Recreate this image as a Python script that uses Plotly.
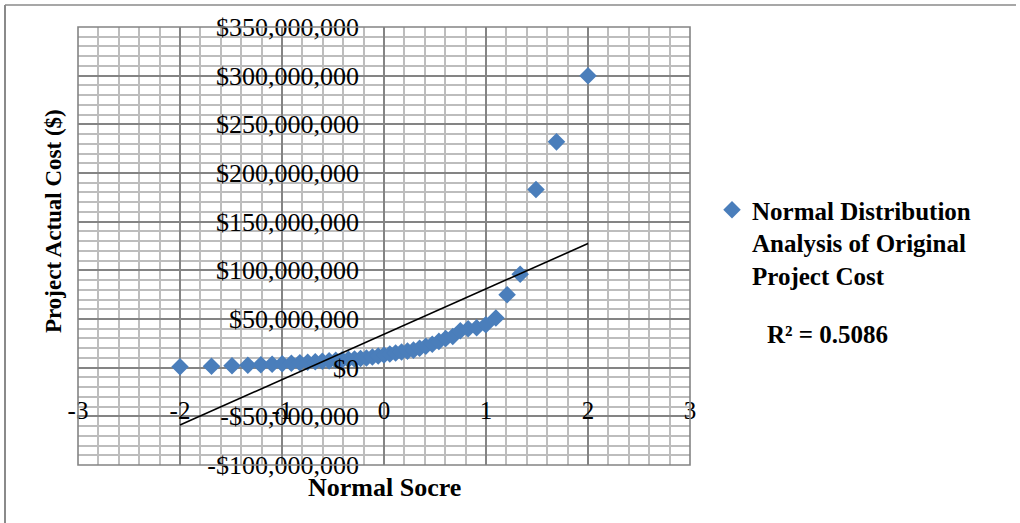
import numpy as np
import plotly.graph_objects as go

# ---- data ----
normal_score = [-2.000, -1.691, -1.490, -1.335, -1.207, -1.097, -0.998, -0.908, -0.825,
                -0.748, -0.674, -0.605, -0.538, -0.473, -0.410, -0.349, -0.289, -0.230,
                -0.172, -0.114, -0.057, 0.000, 0.057, 0.114, 0.172, 0.230, 0.289, 0.349,
                0.410, 0.473, 0.538, 0.605, 0.674, 0.748, 0.825, 0.908, 0.998, 1.097,
                1.207, 1.335, 1.490, 1.691, 2.000]
actual_cost_musd = [1.0, 1.5, 2.0, 2.5, 3.0, 3.5, 4.0, 4.5, 5.0,
                    5.5, 6.0, 6.5, 7.0, 7.5, 8.0, 8.5, 9.0, 9.5,
                    10.0, 11.0, 12.0, 13.0, 14.0, 15.0, 16.0, 17.0, 18.0, 20.0,
                    22.0, 24.0, 27.0, 30.0, 32.0, 38.0, 40.0, 41.0, 44.0, 51.0,
                    75.0, 96.0, 183.0, 232.0, 300.0]

x_tick_vals = [-3, -2, -1, 0, 1, 2, 3]
x_tick_text = ["-3", "-2", "-1", "0", "1", "2", "3"]
y_tick_vals = [-100e6, -50e6, 0, 50e6, 100e6, 150e6, 200e6, 250e6, 300e6, 350e6]
y_tick_text = ["-$100,000,000", "-$50,000,000", "$0", "$50,000,000", "$100,000,000",
               "$150,000,000", "$200,000,000", "$250,000,000", "$300,000,000", "$350,000,000"]

series_name = "Normal Distribution<br>Analysis of Original<br>Project Cost"
x_title = "Normal Socre"
y_title = "Project Actual Cost ($)"
r2_label = "R² = 0.5086"

cost = [v * 1e6 for v in actual_cost_musd]

# linear trendline fitted to the data
slope, intercept = np.polyfit(normal_score, cost, 1)
trend_x = [min(normal_score), max(normal_score)]
trend_y = [slope * v + intercept for v in trend_x]

FONT = "Liberation Serif"
MAJOR = "#848484"
MINOR = "#bdbdbd"
BLUE = "#4a7ebb"

fig = go.Figure()
fig.add_trace(go.Scatter(
    x=normal_score, y=cost, mode="markers", name="<b>" + series_name + "</b>",
    marker=dict(symbol="diamond", size=13.5, color=BLUE, line=dict(width=0)),
))
fig.add_trace(go.Scatter(
    x=trend_x, y=trend_y, mode="lines", showlegend=False,
    line=dict(color="black", width=1.6),
))

# pixel helpers for plot area 78..690 x 27..465
PL, PR, PT, PB = 78, 690, 27, 465
def px_x(p):
    return (p - PL) / (PR - PL)
def px_y(p):
    return (PB - p) / (PB - PT)

fig.update_layout(
    width=1020, height=523, autosize=False,
    margin=dict(l=PL, r=1020 - PR, t=PT, b=523 - PB),
    plot_bgcolor="white", paper_bgcolor="white",
    font=dict(family=FONT, size=25, color="black"),
    xaxis=dict(
        range=[-3, 3], tickmode="array", tickvals=x_tick_vals, ticktext=x_tick_text,
        showgrid=True, gridcolor=MAJOR, gridwidth=1.6, zeroline=False, showline=False,
        ticks="", anchor="free", position=px_y(393), automargin=False,
        tickfont=dict(family=FONT, size=25, color="black"),
        minor=dict(tickmode="linear", tick0=-3, dtick=0.2, showgrid=True,
                   gridcolor=MINOR, gridwidth=1.5),
    ),
    yaxis=dict(
        range=[-100e6, 350e6], tickmode="array", tickvals=y_tick_vals, ticktext=y_tick_text,
        showgrid=True, gridcolor=MAJOR, gridwidth=1.6, zeroline=False, showline=False,
        ticks="", anchor="free", position=px_x(359), automargin=False,
        tickfont=dict(family=FONT, size=26, color="black"),
        minor=dict(tickmode="linear", tick0=0, dtick=10e6, showgrid=True,
                   gridcolor=MINOR, gridwidth=1.5),
    ),
    legend=dict(
        x=px_x(712), y=px_y(187), xanchor="left", yanchor="top",
        bgcolor="rgba(0,0,0,0)", valign="top",
        font=dict(family=FONT, size=25, color="black"),
    ),
    shapes=[
        dict(type="rect", xref="paper", yref="paper", x0=0, x1=1, y0=0, y1=1,
             line=dict(color=MAJOR, width=1.6), layer="above"),
        dict(type="line", xref="paper", yref="paper", x0=px_x(5), x1=px_x(5),
             y0=px_y(5), y1=px_y(523), line=dict(color="#8a8a8a", width=2)),
        dict(type="line", xref="paper", yref="paper", x0=px_x(5), x1=px_x(1016),
             y0=px_y(5), y1=px_y(5), line=dict(color="#8a8a8a", width=1.5)),
    ],
    annotations=[
        dict(text="<b>" + x_title + "</b>", xref="paper", yref="paper",
             x=px_x(384), y=px_y(487), xanchor="center", yanchor="middle",
             showarrow=False, font=dict(family=FONT, size=26, color="black")),
        dict(text="<b>" + y_title + "</b>", xref="paper", yref="paper",
             x=px_x(53), y=px_y(221), xanchor="center", yanchor="middle", textangle=-90,
             showarrow=False, font=dict(family=FONT, size=23, color="black")),
        dict(text="<b>" + r2_label + "</b>", xref="paper", yref="paper",
             x=px_x(827), y=px_y(334), xanchor="center", yanchor="middle",
             showarrow=False, font=dict(family=FONT, size=25, color="black")),
    ],
)

fig.write_html("out.html", config={"displayModeBar": False},
               post_script="document.body.style.margin='0';")
